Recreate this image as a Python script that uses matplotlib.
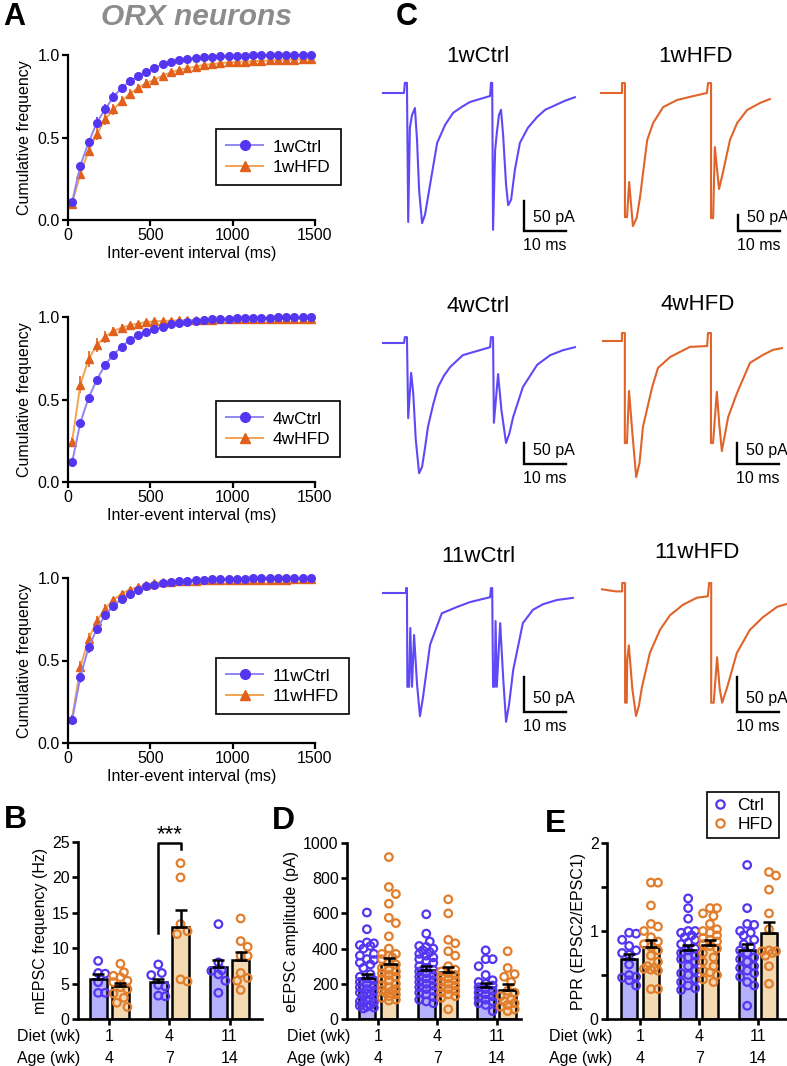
import numpy as np
import matplotlib
matplotlib.use('Agg')
import matplotlib.pyplot as plt
from matplotlib.lines import Line2D

plt.rcParams['font.family'] = ['Liberation Sans', 'DejaVu Sans']

W, H = 787, 1066

# colours
CTRL_DOT = '#5536f0'
CTRL_LINE = '#8f86f2'
CTRL_BAR = '#b4b0fa'
CTRL_TRACE = '#5f49f7'
HFD_DOT = '#e0601c'
HFD_LINE = '#f2a451'
HFD_BAR = '#f4dab3'
HFD_OPEN = '#e27d2c'
HFD_TRACE = '#e0642a'

# ---------------- panel A data: cumulative frequency of inter-event intervals
bins = np.arange(25, 1500, 50)
cum_1w_ctrl = [0.11, 0.33, 0.47, 0.59, 0.67, 0.745, 0.80, 0.84, 0.87, 0.90, 0.92, 0.945, 0.96, 0.97, 0.975,
               0.98, 0.985, 0.99, 0.992, 0.994, 0.995, 0.996, 0.997, 0.997, 0.998, 0.998, 0.999, 0.999, 1.0, 1.0]
cum_1w_hfd = [0.10, 0.28, 0.42, 0.52, 0.61, 0.67, 0.72, 0.765, 0.80, 0.83, 0.85, 0.875, 0.895, 0.91, 0.92,
              0.93, 0.94, 0.945, 0.95, 0.955, 0.958, 0.96, 0.963, 0.965, 0.967, 0.969, 0.971, 0.972, 0.974, 0.975]
err_1w_ctrl = [0.01, 0.02, 0.03, 0.035, 0.03, 0.03, 0.025, 0.02, 0.02, 0.018, 0.015, 0.012, 0.01, 0.008, 0.006,
               0.005, 0.004, 0.004, 0.003, 0.003, 0.003, 0.002, 0.002, 0.002, 0.002, 0.002, 0.001, 0.001, 0.001, 0.001]
err_1w_hfd = [0.01, 0.02, 0.03, 0.035, 0.035, 0.035, 0.03, 0.028, 0.025, 0.022, 0.02, 0.018, 0.016, 0.014, 0.013,
              0.012, 0.011, 0.01, 0.01, 0.01, 0.009, 0.009, 0.009, 0.008, 0.008, 0.008, 0.008, 0.007, 0.007, 0.007]

cum_4w_ctrl = [0.12, 0.36, 0.51, 0.62, 0.71, 0.77, 0.82, 0.86, 0.89, 0.91, 0.925, 0.94, 0.955, 0.965, 0.972,
               0.978, 0.982, 0.985, 0.988, 0.99, 0.992, 0.993, 0.994, 0.995, 0.996, 0.997, 0.998, 0.998, 0.999, 1.0]
cum_4w_hfd = [0.245, 0.59, 0.745, 0.83, 0.88, 0.915, 0.935, 0.95, 0.96, 0.97, 0.973, 0.976, 0.978, 0.98, 0.981,
              0.982, 0.983, 0.984, 0.985, 0.985, 0.986, 0.986, 0.987, 0.987, 0.988, 0.988, 0.988, 0.989, 0.989, 0.99]
err_4w_ctrl = [0.01, 0.015, 0.02, 0.02, 0.02, 0.02, 0.018, 0.015, 0.012, 0.01, 0.008, 0.007, 0.006, 0.005, 0.004,
               0.004, 0.003, 0.003, 0.003, 0.002, 0.002, 0.002, 0.002, 0.002, 0.001, 0.001, 0.001, 0.001, 0.001, 0.001]
err_4w_hfd = [0.03, 0.05, 0.05, 0.045, 0.035, 0.025, 0.02, 0.015, 0.012, 0.01, 0.009, 0.008, 0.008, 0.007, 0.007,
              0.007, 0.006, 0.006, 0.006, 0.006, 0.006, 0.005, 0.005, 0.005, 0.005, 0.005, 0.005, 0.005, 0.005, 0.005]

cum_11w_ctrl = [0.14, 0.40, 0.58, 0.69, 0.775, 0.83, 0.875, 0.905, 0.93, 0.95, 0.96, 0.97, 0.975, 0.98, 0.984,
                0.987, 0.99, 0.992, 0.993, 0.994, 0.995, 0.996, 0.997, 0.997, 0.998, 0.998, 0.999, 0.999, 1.0, 1.0]
cum_11w_hfd = [0.15, 0.46, 0.63, 0.74, 0.815, 0.865, 0.905, 0.93, 0.945, 0.96, 0.97, 0.975, 0.978, 0.98, 0.982,
               0.984, 0.985, 0.986, 0.987, 0.988, 0.988, 0.989, 0.989, 0.99, 0.99, 0.99, 0.99, 0.991, 0.991, 0.991]
err_11w_ctrl = [0.01, 0.035, 0.035, 0.03, 0.03, 0.025, 0.02, 0.018, 0.015, 0.012, 0.01, 0.008, 0.007, 0.006, 0.005,
                0.004, 0.004, 0.003, 0.003, 0.003, 0.002, 0.002, 0.002, 0.002, 0.002, 0.001, 0.001, 0.001, 0.001, 0.001]
err_11w_hfd = [0.01, 0.04, 0.035, 0.03, 0.025, 0.02, 0.018, 0.015, 0.012, 0.01, 0.009, 0.008, 0.007, 0.006, 0.006,
               0.005, 0.005, 0.005, 0.005, 0.004, 0.004, 0.004, 0.004, 0.004, 0.004, 0.004, 0.004, 0.004, 0.004, 0.004]

# ---------------- panel C data: example eEPSC traces (ms, pA)
t_1w_ctrl = [0, 5.0, 5.2, 5.7, 6.0, 6.4, 6.9, 7.6, 8.1, 8.6, 9.3, 10.0, 11.2, 12.9, 14.8, 16.7, 18.8, 20.7, 23.1, 25.5,
             25.7, 26.0, 26.2, 26.7, 27.1, 27.6, 28.1, 28.6, 29.3, 29.8, 30.5, 31.4, 32.6, 34.5, 36.7, 38.6, 40.5, 43.3, 45.7]
i_1w_ctrl = [0, 0, 17, 17, -215, -58, -37, -25, -78, -162, -217, -203, -153, -83, -53, -33, -23, -15, -10, -5,
             17, 17, -228, -95, -67, -37, -28, -70, -153, -187, -178, -128, -83, -58, -40, -28, -22, -13, -7]
t_1w_hfd = [0, 5.0, 5.0, 5.7, 5.7, 6.2, 6.7, 7.6, 8.5, 9.3, 10.2, 11.0, 12.4, 14.8, 18.1, 21.2, 25.2, 25.5, 26.2, 26.2,
            26.7, 27.1, 28.1, 29.0, 30.7, 32.4, 34.8, 37.9, 40.2]
i_1w_hfd = [0, 0, 31, 31, -388, -388, -278, -416, -390, -325, -230, -147, -94, -44, -22, -12, 0, 31, 31, -391,
            -391, -169, -300, -250, -147, -94, -53, -31, -19]
t_4w_ctrl = [0, 5.0, 5.2, 5.7, 6.0, 6.7, 7.2, 7.8, 8.6, 9.3, 10.0, 10.7, 11.9, 13.1, 14.5, 16.0, 19.0, 22.4, 25.5, 25.7,
             26.2, 26.4, 27.4, 28.2, 29.3, 30.1, 31.0, 33.3, 36.7, 39.8, 42.9, 45.7]
i_4w_ctrl = [0, 0, 14, 14, -179, -71, -120, -230, -310, -295, -250, -200, -148, -105, -78, -57, -29, -19, -10, 14,
             14, -190, -74, -160, -238, -215, -176, -105, -52, -29, -17, -10]
t_4w_hfd = [0, 4.5, 4.5, 5.2, 5.2, 5.7, 6.2, 7.0, 7.9, 8.7, 9.5, 11.7, 13.1, 16.0, 20.7, 24.8, 25.0, 25.7, 25.7, 26.2,
            27.1, 27.7, 28.3, 29.8, 31.9, 35.0, 38.1, 40.5, 42.6]
i_4w_hfd = [0, 0, 19, 19, -243, -243, -119, -220, -324, -290, -205, -110, -64, -38, -14, -12, 19, 19, -243, -243,
            -121, -200, -262, -181, -124, -52, -33, -21, -17]
t_11w_ctrl = [0, 5.5, 5.5, 5.7, 5.8, 6.2, 6.5, 6.9, 7.4, 8.1, 8.8, 9.5, 11.2, 14.0, 17.6, 20.7, 25.5, 25.7, 26.0, 26.2,
              26.6, 26.8, 27.1, 27.9, 28.6, 29.3, 30.0, 31.0, 33.3, 35.7, 38.1, 41.4, 45.2]
i_11w_ctrl = [0, 0, 7, 7, -134, -134, -50, -134, -60, -130, -176, -150, -74, -29, -20, -13, -6, 7, 7, -134,
              -134, -40, -134, -43, -120, -184, -160, -110, -43, -24, -16, -10, -7]
t_11w_hfd = [0, 3.3, 4.8, 4.8, 5.5, 5.5, 5.9, 6.0, 6.4, 7.2, 8.1, 8.8, 9.5, 11.4, 13.8, 16.2, 19.3, 22.6, 25.2, 25.5,
             26.0, 26.0, 26.6, 27.4, 28.0, 28.6, 29.8, 32.1, 35.2, 38.3, 41.7, 44.0]
i_11w_hfd = [1, -2, -2, 10, 10, -161, -161, -100, -79, -140, -180, -165, -139, -90, -57, -36, -21, -11, -9, 10,
             10, -161, -161, -96, -140, -161, -139, -90, -57, -39, -24, -20]

# ---------------- panels B, D, E data
diet_wk = ['1', '4', '11']
age_wk = ['4', '7', '14']

mepsc_ctrl = [[8.2, 6.5, 6.4, 5.2, 3.7, 3.7],
              [7.7, 6.5, 6.2, 4.8, 4.6, 3.2, 3.3],
              [13.4, 8.0, 6.9, 6.8, 6.3, 5.4, 3.7]]
mepsc_hfd = [[7.8, 6.6, 6.1, 5.9, 5.4, 5.2, 4.5, 4.2, 3.6, 3.0, 2.3, 1.7],
             [22.0, 20.0, 13.4, 12.4, 12.0, 5.6, 5.3],
             [14.2, 11.0, 10.2, 8.9, 8.9, 6.5, 5.8, 5.4, 4.1]]
mepsc_mean_ctrl = [5.6, 5.2, 7.3]
mepsc_sem_ctrl = [0.7, 0.5, 1.1]
mepsc_mean_hfd = [4.7, 13.0, 8.4]
mepsc_sem_hfd = [0.4, 2.4, 1.0]

eepsc_ctrl = [[605, 510, 435, 430, 420, 415, 400, 370, 360, 340, 335, 320, 310, 290, 255, 240, 230, 220, 210,
               200, 190, 180, 170, 160, 150, 145, 140, 130, 120, 110, 100, 95, 90, 80, 75, 70, 65, 60],
              [595, 485, 440, 415, 410, 400, 390, 380, 370, 360, 350, 340, 330, 320, 300, 290, 280, 270, 260,
               250, 240, 230, 220, 210, 200, 190, 180, 170, 160, 150, 140, 125, 110, 100, 90],
              [390, 340, 340, 300, 250, 220, 210, 200, 190, 180, 170, 160, 150, 140, 130, 120, 110, 100, 90, 80, 45]]
eepsc_hfd = [[920, 750, 710, 655, 575, 545, 470, 400, 370, 370, 360, 350, 340, 320, 310, 290, 280, 270, 260,
              250, 240, 230, 220, 200, 190, 180, 170, 165, 160, 150, 140, 130, 120, 110, 105],
             [680, 600, 450, 430, 385, 360, 300, 280, 270, 260, 250, 240, 230, 220, 210, 200, 190, 180, 170,
              160, 150, 140, 130, 120, 55],
             [385, 290, 255, 240, 210, 160, 150, 130, 110, 100, 90, 80, 70, 55, 45]]
eepsc_mean_ctrl = [235, 278, 184]
eepsc_sem_ctrl = [20, 25, 20]
eepsc_mean_hfd = [315, 265, 165]
eepsc_sem_hfd = [32, 30, 32]

ppr_ctrl = [[0.98, 0.97, 0.90, 0.83, 0.78, 0.75, 0.73, 0.62, 0.50, 0.48, 0.47, 0.44, 0.38],
            [1.37, 1.26, 1.14, 1.0, 1.0, 0.98, 0.95, 0.93, 0.9, 0.87, 0.85, 0.8, 0.78, 0.75, 0.72, 0.7, 0.68,
             0.65, 0.6, 0.55, 0.52, 0.5, 0.45, 0.42, 0.38, 0.35, 0.33],
            [1.75, 1.26, 1.08, 1.07, 1.0, 0.98, 0.95, 0.9, 0.85, 0.82, 0.78, 0.75, 0.7, 0.68, 0.65, 0.6, 0.58,
             0.55, 0.52, 0.48, 0.42, 0.38, 0.15]]
ppr_hfd = [[1.55, 1.55, 1.29, 1.08, 1.05, 1.0, 0.93, 0.88, 0.85, 0.82, 0.78, 0.72, 0.65, 0.6, 0.58, 0.57,
            0.56, 0.55, 0.34, 0.34],
           [1.26, 1.26, 1.2, 1.17, 1.08, 1.02, 1.0, 0.98, 0.95, 0.92, 0.9, 0.88, 0.85, 0.83, 0.8, 0.75, 0.7,
            0.65, 0.6, 0.55, 0.53, 0.5, 0.45, 0.42],
           [1.67, 1.63, 1.47, 1.2, 1.02, 0.78, 0.77, 0.77, 0.75, 0.72, 0.6, 0.4]]
ppr_mean_ctrl = [0.68, 0.78, 0.78]
ppr_sem_ctrl = [0.055, 0.06, 0.07]
ppr_mean_hfd = [0.82, 0.84, 0.98]
ppr_sem_hfd = [0.08, 0.06, 0.12]


fig = plt.figure(figsize=(W / 100, H / 100), dpi=100)


def px_axes(x0, y0, x1, y1):
    return fig.add_axes([x0 / W, 1 - y1 / H, (x1 - x0) / W, (y1 - y0) / H])


def fig_text(x, y, s, **kw):
    fig.text(x / W, 1 - y / H, s, **kw)


def style_axes(ax, lw=1.6):
    for side in ['top', 'right']:
        ax.spines[side].set_visible(False)
    for side in ['left', 'bottom']:
        ax.spines[side].set_linewidth(lw)
    ax.tick_params(direction='out', length=4, width=lw, labelsize=11.5, pad=2)


# ---------------- panel A
cum_rows = [
    (55, cum_1w_ctrl, err_1w_ctrl, cum_1w_hfd, err_1w_hfd, '1wCtrl', '1wHFD', 129),
    (317, cum_4w_ctrl, err_4w_ctrl, cum_4w_hfd, err_4w_hfd, '4wCtrl', '4wHFD', 401),
    (578, cum_11w_ctrl, err_11w_ctrl, cum_11w_hfd, err_11w_hfd, '11wCtrl', '11wHFD', 658),
]
for top, c_ctrl, e_ctrl, c_hfd, e_hfd, lab_ctrl, lab_hfd, leg_top in cum_rows:
    ax = px_axes(68, top, 315, top + 165)
    h_hfd = ax.errorbar(bins, c_hfd, yerr=e_hfd, color=HFD_LINE, lw=1.4, marker='^', ms=6,
                        mfc=HFD_DOT, mec=HFD_DOT, ecolor=HFD_DOT, elinewidth=1.2, capsize=0)
    h_ctrl = ax.errorbar(bins, c_ctrl, yerr=e_ctrl, color=CTRL_LINE, lw=1.4, marker='o', ms=5.5,
                         mfc=CTRL_DOT, mec=CTRL_DOT, ecolor=CTRL_DOT, elinewidth=1.2, capsize=0)
    for h in (h_hfd, h_ctrl):
        for art in h.get_children():
            art.set_clip_on(False)
    ax.set_xlim(0, 1500)
    ax.set_ylim(0, 1)
    ax.set_xticks([0, 500, 1000, 1500])
    ax.set_yticks([0, 0.5, 1.0])
    ax.set_yticklabels(['0.0', '0.5', '1.0'])
    style_axes(ax)
    ax.set_xlabel('Inter-event interval (ms)', fontsize=11.5, labelpad=2)
    ax.set_ylabel('Cumulative frequency', fontsize=11.5, labelpad=4)
    handles = [Line2D([], [], color=CTRL_LINE, lw=1.4, marker='o', ms=7, mfc=CTRL_DOT, mec=CTRL_DOT),
               Line2D([], [], color=HFD_LINE, lw=1.4, marker='^', ms=7.5, mfc=HFD_DOT, mec=HFD_DOT)]
    leg = fig.legend(handles, [lab_ctrl, lab_hfd], loc='upper left',
                     bbox_to_anchor=(216 / W, 1 - leg_top / H), borderaxespad=0, fontsize=12.5,
                     frameon=True, fancybox=False, edgecolor='black', framealpha=1, borderpad=0.6,
                     handlelength=2.1, handletextpad=0.55, labelspacing=0.3)
    leg.get_frame().set_linewidth(1.2)

fig_text(14, 17, 'A', fontsize=22, fontweight='bold', ha='center', va='center')
fig_text(196, 17, 'ORX neurons', fontsize=21.5, fontweight='bold', fontstyle='italic',
         color='#8c8c8c', ha='center', va='center')

# ---------------- panel C
SX = 4.2  # px per ms


def trace_panel(t, i, x0, y0, sy, color, title, bar_corner):
    left, right, top, bottom = x0 - 12, x0 + 190, y0 - 30, y0 + 160
    ax = px_axes(left, top, right, bottom)
    ax.set_xlim((left - x0) / SX, (right - x0) / SX)
    ax.set_ylim(-(bottom - y0) / sy, -(top - y0) / sy)
    ax.axis('off')
    ax.plot(t, i, color=color, lw=1.5, solid_joinstyle='round', clip_on=False)
    bt, bi = bar_corner
    ax.plot([bt, bt, bt + 10], [bi + 50, bi, bi], color='black', lw=1.7,
            solid_joinstyle='miter', clip_on=False)
    ax.annotate('50 pA', xy=(bt, bi), xytext=(6.5, 9.5), textcoords='offset points',
                ha='left', va='center', fontsize=11.5)
    ax.annotate('10 ms', xy=(bt + 5, bi), xytext=(0, -10.5), textcoords='offset points',
                ha='center', va='center', fontsize=11.5)
    fig_text(x0 + 95, y0 - 37, title, fontsize=16, ha='center', va='center')


trace_panel(t_1w_ctrl, i_1w_ctrl, 383, 93, 0.6, CTRL_TRACE, '1wCtrl', (33.6, -230))
trace_panel(t_1w_hfd, i_1w_hfd, 601, 93, 0.32, HFD_TRACE, '1wHFD', (32.6, -431))
trace_panel(t_4w_ctrl, i_4w_ctrl, 383, 343, 0.42, CTRL_TRACE, '4wCtrl', (33.6, -288))
trace_panel(t_4w_hfd, i_4w_hfd, 603, 341, 0.42, HFD_TRACE, '4wHFD', (31.9, -293))
trace_panel(t_11w_ctrl, i_11w_ctrl, 383, 593, 0.7, CTRL_TRACE, '11wCtrl', (33.6, -170))
trace_panel(t_11w_hfd, i_11w_hfd, 602, 590, 0.7, HFD_TRACE, '11wHFD', (32.1, -174))

fig_text(407, 17, 'C', fontsize=22, fontweight='bold', ha='center', va='center')


# ---------------- panels B, D, E
def swarm_x(ax, xc, vals, diam=8.5, step=3.5, max_off=9.0):
    px_x = ax.transData.transform((1, 0))[0] - ax.transData.transform((0, 0))[0]
    ys = ax.transData.transform(np.column_stack([np.zeros(len(vals)), vals]))[:, 1]
    cands = [0.0]
    k = 1
    while k * step <= max_off:
        cands += [k * step, -k * step]
        k += 1
    placed = []
    xs = np.zeros(len(vals))
    for idx in np.argsort(-np.asarray(vals)):
        y = ys[idx]
        best, best_d = None, -1
        for c in cands:
            d = min([np.hypot(c - px, y - py) for px, py in placed], default=1e9)
            if d >= diam:
                best = c
                break
            if d > best_d:
                best, best_d = c, d
        placed.append((best, y))
        xs[idx] = xc + best / px_x
    return xs


def bar_panel(box, xlim, ylim, yticks, yticklabels, ylabel, pts_ctrl, pts_hfd,
              mean_ctrl, sem_ctrl, mean_hfd, sem_hfd, label_dx):
    ax = px_axes(*box)
    ax.set_xlim(*xlim)
    ax.set_ylim(*ylim)
    off, width = 0.185, 0.28
    groups = np.arange(3)
    for sign, means, sems, pts, fill, dot in [(-1, mean_ctrl, sem_ctrl, pts_ctrl, CTRL_BAR, CTRL_DOT),
                                              (1, mean_hfd, sem_hfd, pts_hfd, HFD_BAR, HFD_OPEN)]:
        xs = groups + sign * off
        ax.bar(xs, means, width=width, color=fill, edgecolor='black', linewidth=1.8, zorder=2)
        for g in groups:
            px = swarm_x(ax, xs[g], pts[g])
            ax.scatter(px, pts[g], s=30, facecolors='none', edgecolors=dot, linewidths=1.6,
                       zorder=3, clip_on=False)
        ax.errorbar(xs, means, yerr=[np.zeros(3), sems], fmt='none', ecolor='black',
                    elinewidth=1.8, capsize=4, capthick=1.8, zorder=4)
    ax.set_xticks(groups)
    ax.set_xticklabels(['', '', ''])
    ax.set_yticks(yticks)
    ax.set_yticklabels(yticklabels)
    style_axes(ax, lw=1.9)
    ax.set_ylabel(ylabel, fontsize=11.5, labelpad=3)
    for g in groups:
        ax.annotate(diet_wk[g], xy=(g, 0), xycoords=('data', 'axes fraction'), xytext=(0, -12.6),
                    textcoords='offset points', ha='center', va='center', fontsize=11.5)
        ax.annotate(age_wk[g], xy=(g, 0), xycoords=('data', 'axes fraction'), xytext=(0, -28.5),
                    textcoords='offset points', ha='center', va='center', fontsize=11.5)
    ax.annotate('Diet (wk)', xy=(0, 0), xycoords='axes fraction', xytext=(label_dx, -12.6),
                textcoords='offset points', ha='right', va='center', fontsize=11.5)
    ax.annotate('Age (wk)', xy=(0, 0), xycoords='axes fraction', xytext=(label_dx, -28.5),
                textcoords='offset points', ha='right', va='center', fontsize=11.5)
    return ax


ax_b = bar_panel((78, 842, 262, 1019), (-0.52, 2.54), (0, 25), [0, 5, 10, 15, 20, 25],
                 ['0', '5', '10', '15', '20', '25'], 'mEPSC frequency (Hz)',
                 mepsc_ctrl, mepsc_hfd, mepsc_mean_ctrl, mepsc_sem_ctrl, mepsc_mean_hfd, mepsc_sem_hfd, 1.5)
ax_b.plot([1 - 0.185, 1 - 0.185, 1 + 0.185, 1 + 0.185], [12.1, 24.8, 24.8, 24.0], color='black',
          lw=1.8, clip_on=False, zorder=5)
ax_b.text(1, 26.1, '***', ha='center', va='center', fontsize=16, clip_on=False)

bar_panel((347, 843, 521, 1019), (-0.52, 2.41), (0, 1000), [0, 200, 400, 600, 800, 1000],
          ['0', '200', '400', '600', '800', '1000'], 'eEPSC amplitude (pA)',
          eepsc_ctrl, eepsc_hfd, eepsc_mean_ctrl, eepsc_sem_ctrl, eepsc_mean_hfd, eepsc_sem_hfd, 2.2)

bar_panel((607, 843, 787, 1019), (-0.56, 2.49), (0, 2), [0, 0.5, 1, 1.5, 2],
          ['0', '', '1', '', '2'], 'PPR (EPSC2/EPSC1)',
          ppr_ctrl, ppr_hfd, ppr_mean_ctrl, ppr_sem_ctrl, ppr_mean_hfd, ppr_sem_hfd, 3.6)

leg_handles = [Line2D([], [], ls='none', marker='o', ms=6, mfc='none', mec=CTRL_DOT, mew=1.6),
               Line2D([], [], ls='none', marker='o', ms=6, mfc='none', mec=HFD_OPEN, mew=1.6)]
leg = fig.legend(leg_handles, ['Ctrl', 'HFD'], loc='upper right', bbox_to_anchor=(779 / W, 1 - 792 / H),
                 borderaxespad=0, fontsize=12.5, frameon=True, fancybox=False, edgecolor='black',
                 framealpha=1, borderpad=0.35, handlelength=0.8, handletextpad=0.6, labelspacing=0.2)
leg.get_frame().set_linewidth(1.2)

fig_text(15, 820, 'B', fontsize=23, fontweight='bold', ha='center', va='center')
fig_text(283, 821, 'D', fontsize=23, fontweight='bold', ha='center', va='center')
fig_text(556, 824, 'E', fontsize=23, fontweight='bold', ha='center', va='center')

fig.savefig('out.png', dpi=100)
